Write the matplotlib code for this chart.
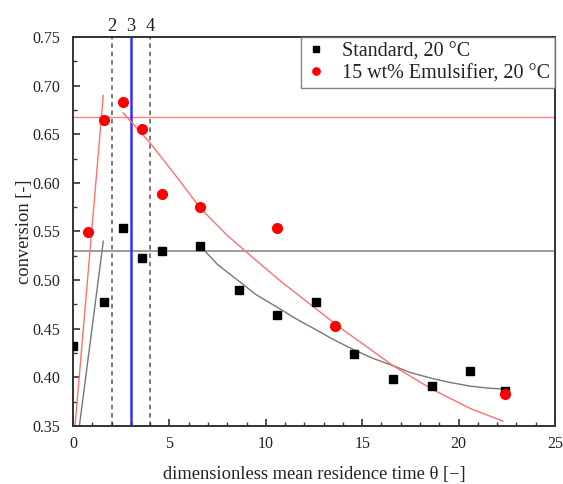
import matplotlib
matplotlib.use("Agg")
import matplotlib.pyplot as plt
from matplotlib.ticker import MultipleLocator
import matplotlib.transforms as mtransforms

plt.rcParams['font.family'] = ['Liberation Serif', 'DejaVu Serif']
plt.rcParams['mathtext.fontset'] = 'stix'

# Data
std_theta = [0.0, 1.6, 2.6, 3.6, 4.6, 6.6, 8.6, 10.6, 12.6, 14.6, 16.6, 18.6, 20.6, 22.4]
std_conv = [0.432, 0.477, 0.554, 0.523, 0.530, 0.535, 0.490, 0.464, 0.477, 0.424, 0.398, 0.391, 0.407, 0.386]

emu_theta = [0.8, 1.6, 2.6, 3.6, 4.6, 6.6, 10.6, 13.6, 22.4]
emu_conv = [0.549, 0.665, 0.683, 0.655, 0.589, 0.575, 0.554, 0.453, 0.383]

# Fit curves
std_rise_x = [0.33, 1.57]
std_rise_y = [0.350, 0.540]
emu_rise_x = [0.10, 1.57]
emu_rise_y = [0.349, 0.690]

std_fit_x = [6.6, 7.5, 8.6, 9.5, 10.6, 11.5, 12.6, 13.5, 14.4, 15.5, 16.6, 17.5, 18.6, 19.5, 20.6, 21.5, 22.3]
std_fit_y = [0.535, 0.516, 0.499, 0.485, 0.472, 0.461, 0.449, 0.439, 0.430, 0.420, 0.412, 0.405, 0.399, 0.395, 0.391, 0.389, 0.388]

emu_fit_x = [2.6, 4.0, 5.5, 6.6, 8.0, 9.1, 10.7, 12.5, 14.0, 15.2, 16.6, 18.6, 20.6, 22.3]
emu_fit_y = [0.672, 0.641, 0.603, 0.574, 0.546, 0.527, 0.500, 0.472, 0.449, 0.432, 0.412, 0.388, 0.368, 0.355]

hline_emu = 0.668
hline_std = 0.530
vlines_dashed = [2, 4]
vline_solid = 3
top_labels = ["2", "3", "4"]
top_label_pos = [2, 3, 4]

fig = plt.figure(figsize=(5.63, 4.84), dpi=100)
ax = fig.add_axes([0.1297, 0.1198, 0.8561, 0.8038])

ax.axhline(hline_emu, color='#ff8080', lw=1.0, zorder=1)
ax.axhline(hline_std, color='#8a8a8a', lw=1.2, zorder=1)
for v in vlines_dashed:
    ax.axvline(v, color='#555555', lw=1.1, ls=(0, (3, 2.5)), zorder=1)
ax.axvline(vline_solid, color='#3030ff', lw=1.8, zorder=1)

ax.plot(std_rise_x, std_rise_y, color='#777777', lw=1.0, zorder=2)
ax.plot(emu_rise_x, emu_rise_y, color='#ff7070', lw=1.0, zorder=2)
ax.plot(std_fit_x, std_fit_y, color='#777777', lw=1.0, zorder=2)
ax.plot(emu_fit_x, emu_fit_y, color='#ff7070', lw=1.0, zorder=2)

ax.plot(std_theta, std_conv, 's', color='black', ms=6.2, ls='none',
        label='Standard, 20 °C', zorder=3)
ax.plot(emu_theta, emu_conv, 'o', color='red', ms=7.0, ls='none',
        label='15 wt% Emulsifier, 20 °C', zorder=4)

ax.set_xlim(0, 25)
ax.set_ylim(0.35, 0.75)
ax.xaxis.set_major_locator(MultipleLocator(5))
ax.xaxis.set_minor_locator(MultipleLocator(1))
ax.yaxis.set_minor_locator(MultipleLocator(0.025))
ax.set_yticks([0.35, 0.40, 0.45, 0.50, 0.55, 0.60, 0.65, 0.70, 0.75])
ax.set_yticklabels(['0.35', '0.40', '0.45', '0.50', '0.55', '0.60', '0.65', '0.70', '0.75'])
ax.tick_params(which='both', direction='in', top=False, right=False, labelsize=11.5,
               colors='#333333', labelcolor='#222222')
ax.tick_params(which='major', length=5, width=1.2)
ax.tick_params(which='minor', length=3, width=1.0)
ax.tick_params(axis='x', pad=7)
ax.tick_params(axis='y', pad=9)

for s in ax.spines.values():
    s.set_linewidth(1.4)
    s.set_color('#333333')

ax.set_xlabel('dimensionless mean residence time θ [−]', fontsize=13.3, color='#222222', labelpad=10)
ax.set_ylabel('conversion [-]', fontsize=13.3, color='#222222', labelpad=0)

trans = mtransforms.blended_transform_factory(ax.transData, ax.transAxes)
for lbl, pos in zip(top_labels, top_label_pos):
    ax.text(pos, 1.005, lbl, transform=trans, ha='center', va='bottom',
            fontsize=13.3, color='#222222')

leg = ax.legend(loc='upper right', fontsize=14.5, frameon=True, fancybox=False,
                markerscale=0.75, handlelength=1.0, handletextpad=0.8,
                borderpad=0.25, labelspacing=0.15, borderaxespad=0.0)
leg.get_frame().set_edgecolor('#666666')
leg.get_frame().set_linewidth(1.0)
for t in leg.get_texts():
    t.set_color('#222222')

fig.savefig('out.png', dpi=100)
